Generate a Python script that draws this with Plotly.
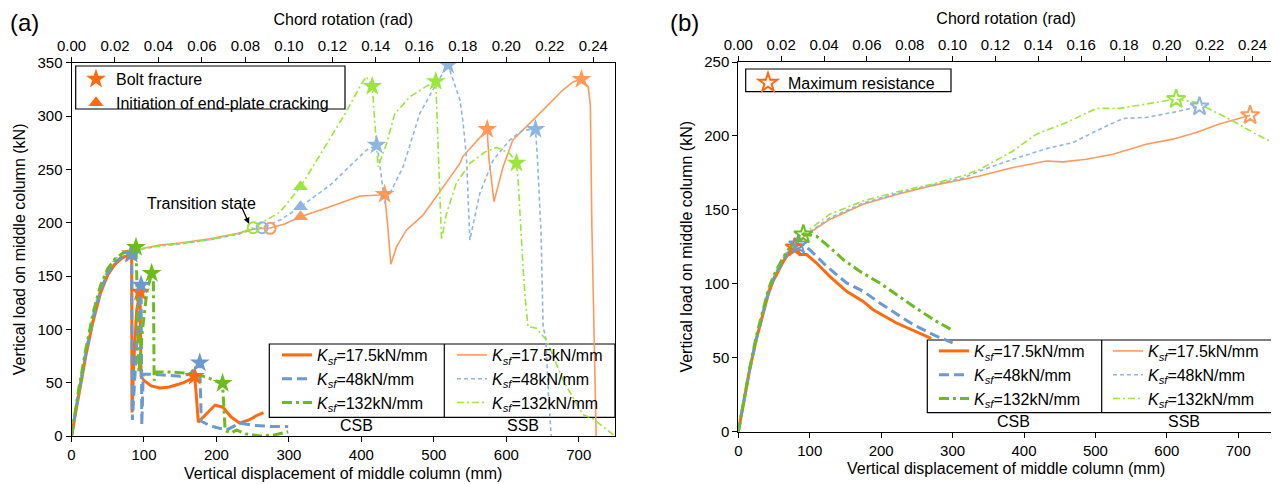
import plotly.graph_objects as go

# the page body has an 8px margin, so the figure is drawn 8px in from the corner
OFF = 8
W, H = 1279 - OFF, 484 - OFF

# ---------------- panel (a) data ----------------
# CSB (thick) curves
a_csb_or_x = [0, 5, 10, 20, 30, 40, 50, 60, 70, 80, 83, 83.5, 86, 90, 94.5, 96, 100, 110, 122, 135, 145, 155, 163, 170, 172, 175, 185, 198, 209, 220, 232, 245, 255, 265]
a_csb_or_y = [0, 20, 40, 76, 108, 134, 151, 161, 167, 170, 171, 22, 70, 118, 135, 56, 52, 47, 45, 46, 48, 50, 53, 56, 40, 13, 20, 29, 27, 18, 12, 15, 19, 22]

a_csb_bl_x = [0, 5, 10, 20, 30, 40, 50, 60, 70, 80, 83, 84, 88, 93, 96, 97, 99, 110, 130, 150, 163, 172, 177, 179, 190, 200, 214, 232, 251, 275, 299]
a_csb_bl_y = [0, 21, 41, 78, 111, 136, 153, 163, 168, 171, 170.6, 15, 60, 120, 141.6, 10, 58, 58, 57, 56, 58, 65, 68.7, 14, 10, 8, 5.6, 12, 10, 9, 9]

a_csb_gr_x = [0, 5, 10, 20, 30, 40, 50, 60, 70, 80, 89, 90, 93, 98, 104, 110.6, 113, 114, 117.5, 140, 160, 173, 190, 208.5, 212, 220, 228, 240, 260, 280, 299]
a_csb_gr_y = [0, 23, 44, 82, 116, 141, 157, 166, 171, 174, 177, 150, 60, 100, 135, 152.5, 150, 52, 60, 60, 59, 58, 54, 49.4, 5, 3, 5.6, 2, 0, 1, 4]

# SSB (thin) curves
a_ssb_or_x = [0, 5, 10, 20, 30, 40, 50, 60, 70, 80, 85, 100, 122, 150, 191, 230, 251, 274, 295, 316, 356.6, 398, 425, 432, 436, 440.7, 448.6, 462, 485, 508, 536, 540, 573.6, 576, 583, 595.6, 609, 641.6, 678, 692, 703.7, 713, 716, 718, 720, 722, 724]
a_ssb_or_y = [0, 20, 40, 76, 108, 134, 151, 161, 167, 170, 173, 176, 179, 181, 185, 190, 194, 195, 199, 205.6, 215, 225, 226, 226.6, 200, 161, 177.5, 193, 207, 229, 255.6, 262, 287.5, 260, 219.7, 252.5, 277.5, 299.4, 324.4, 332, 334.4, 327.5, 310, 200, 120, 40, 0]

a_ssb_bl_x = [0, 5, 10, 20, 30, 40, 50, 60, 70, 80, 85, 100, 122, 150, 191, 230, 251, 263, 288, 316, 356.6, 407, 421, 424, 432.4, 457.7, 480.7, 503.7, 519.7, 536, 540, 545, 549.7, 563.4, 581.8, 604.8, 623, 640.3, 643, 648, 650.8, 654.5, 658, 662]
a_ssb_bl_y = [0, 21, 41, 78, 111, 136, 153, 163, 168, 171, 172, 175.5, 178.5, 180, 184, 189, 194, 195.3, 202.5, 215, 235, 268, 272.8, 262, 218, 252.5, 302.5, 330.6, 347.8, 315, 296, 262, 183.7, 227.5, 258.7, 277.5, 286.9, 287.5, 260, 190, 102.5, 91.6, 40, 0]

a_ssb_gr_x = [0, 5, 10, 20, 30, 40, 50, 60, 70, 80, 85, 100, 122, 150, 191, 230, 250.8, 288, 316, 347, 380, 400, 407, 415, 418.6, 423, 434.7, 446, 467, 490, 502.7, 506, 510.6, 517.5, 531, 549.7, 570, 586.5, 604.8, 614, 616.3, 623, 626, 630, 641.6, 655.4, 680, 706, 720, 750]
a_ssb_gr_y = [0, 23, 44, 82, 116, 141, 157, 166, 171, 174, 174, 176, 178, 180, 184, 190, 195.3, 210, 233.7, 268, 305, 330, 337, 328, 290, 252.5, 274, 302, 318, 328, 332.5, 277.5, 183.7, 208.7, 237, 255.6, 266, 270.6, 265, 256, 240, 158.7, 130, 102.5, 101, 90, 50, 20, 16, 0]

# bolt fracture (stars), end-plate cracking (triangles), transition state (circles)
a_star_csb_or = ([82, 94.5, 170], [171, 135, 56])
a_star_csb_bl = ([83, 96, 177], [170.6, 141.6, 68.7])
a_star_csb_gr = ([89, 110.6, 208.5], [177, 152.5, 49.4])
a_star_ssb_or = ([432, 573.6, 703.7], [226.6, 287.5, 334.4])
a_star_ssb_bl = ([421, 519.7, 640.3], [272.8, 347.8, 287.5])
a_star_ssb_gr = ([415, 502.7, 614], [328, 332.5, 256])
a_tri_x = [316, 316, 316]
a_tri_y = [205.6, 215, 233.7]
a_circ_x = [274, 263, 250.8]
a_circ_y = [194.7, 195.3, 195.3]

# ---------------- panel (b) data ----------------
b_csb_or_x = [0, 8, 16, 25, 35, 42, 49, 56, 63, 70, 76, 79, 82, 86, 95.7, 109.6, 128, 151.6, 174.8, 188.8, 221.5, 263.5, 270]
b_csb_or_y = [0, 21, 42, 62, 81, 93, 102, 109, 115, 120, 123, 124.5, 123, 119.7, 119.7, 114, 105, 94.8, 88, 82.4, 73.4, 64.3, 63]

b_csb_bl_x = [0, 8, 16, 25, 35, 42, 49, 56, 63, 70, 77, 84, 90, 100, 123.6, 151.6, 174.8, 198, 244.8, 275, 300]
b_csb_bl_y = [0, 21, 42, 62, 82, 94, 103, 110, 116, 121, 124, 126.5, 126, 123, 111.8, 100.5, 94.9, 87, 72.3, 65, 60]

b_csb_gr_x = [0, 8, 16, 25, 35, 42, 49, 56, 63, 70, 77, 84, 91, 100, 109.6, 123.6, 147, 170, 198, 245, 277.5, 298.5]
b_csb_gr_y = [0, 22, 43, 64, 84, 96, 105, 112, 118, 123, 127, 130, 133.3, 133, 132, 126.5, 116.3, 108.4, 100.5, 84.7, 74.5, 68.9]

b_ssb_or_x = [0, 8, 16, 25, 35, 42, 49, 56, 63, 70, 80, 90, 100, 128, 174.8, 221.5, 268, 314.7, 338, 384.6, 431.3, 454.5, 487, 524.5, 571, 608.4, 641, 673.7, 716.6]
b_ssb_or_y = [0, 21, 42, 62, 82, 94, 103, 110, 116, 121, 126, 131, 134.5, 143.5, 153.7, 160.4, 166, 170.6, 172.9, 178.6, 183, 182.4, 184.2, 187.6, 194.4, 197.8, 202.3, 208, 214]

b_ssb_bl_x = [0, 8, 16, 25, 35, 42, 49, 56, 63, 70, 80, 90, 100, 128, 174.8, 221.5, 268, 314.7, 338, 384.6, 431.3, 468.5, 501.2, 538.5, 571, 608.4, 645.7]
b_ssb_bl_y = [0, 21, 42, 62, 82, 94, 103, 110, 116, 121, 127, 132, 135, 144.5, 154.5, 161, 166.5, 171.5, 176.3, 184.2, 191.4, 195.5, 203.4, 211.8, 212.5, 215.9, 219.9]

b_ssb_gr_x = [0, 8, 16, 25, 35, 42, 49, 56, 63, 70, 80, 90, 100, 128, 174.8, 221.5, 268, 314.7, 338, 384.6, 417.3, 459.3, 501.2, 533.8, 571, 613, 641, 687.7, 725, 750]
b_ssb_gr_y = [0, 22, 43, 64, 84, 96, 105, 112, 118, 123, 129, 134, 137, 147, 156, 162, 167, 173, 177.4, 189.8, 201.2, 209, 218.6, 218.6, 221.5, 224.9, 222.7, 211.3, 201.2, 195]

b_max_csb = ([79, 84, 91], [124.5, 126.5, 133.3])
b_max_ssb = ([716.6, 645.7, 613], [214, 219.9, 224.9])

legend_labels = ["<i>K</i><sub><i>sf</i></sub>=17.5kN/mm",
                 "<i>K</i><sub><i>sf</i></sub>=48kN/mm",
                 "<i>K</i><sub><i>sf</i></sub>=132kN/mm"]

# colours: CSB darker, SSB lighter
C_OR, C_BL, C_GR = "#FF6A0D", "#6A9AD0", "#6CBC1E"
S_OR, S_BL, S_GR = "#FF9A5A", "#8EB6E3", "#9BE63A"

FONT = "Liberation Sans, Arial, sans-serif"

fig = go.Figure()


def line(x, y, color, width, dash, name, xa, ya, leg, grp):
    fig.add_trace(go.Scatter(x=x, y=y, mode="lines", name=name,
                             line=dict(color=color, width=width, dash=dash),
                             xaxis=xa, yaxis=ya, legend=leg, legendgroup=grp,
                             hoverinfo="skip"))


def marks(xy, color, symbol, size, xa, ya, lw=0):
    fig.add_trace(go.Scatter(x=xy[0], y=xy[1], mode="markers", showlegend=False,
                             marker=dict(symbol=symbol, size=size, color=color,
                                         line=dict(width=lw, color=color)),
                             xaxis=xa, yaxis=ya, hoverinfo="skip"))


DASH_T = "10px,5px"
DASHDOT_T = "10px,4px,3px,4px"
DASH_S = "4px,3px"
DASHDOT_S = "7px,3px,2px,3px"

# ---- panel (a) curves: SSB first, CSB on top
line(a_ssb_or_x, a_ssb_or_y, S_OR, 1.6, "solid", legend_labels[0], "x", "y", "legend3", "s1")
line(a_ssb_bl_x, a_ssb_bl_y, S_BL, 1.6, DASH_S, legend_labels[1], "x", "y", "legend3", "s2")
line(a_ssb_gr_x, a_ssb_gr_y, S_GR, 1.6, DASHDOT_S, legend_labels[2], "x", "y", "legend3", "s3")
line(a_csb_or_x, a_csb_or_y, C_OR, 3, "solid", legend_labels[0], "x", "y", "legend2", "c1")
line(a_csb_bl_x, a_csb_bl_y, C_BL, 3, DASH_T, legend_labels[1], "x", "y", "legend2", "c2")
line(a_csb_gr_x, a_csb_gr_y, C_GR, 3, DASHDOT_T, legend_labels[2], "x", "y", "legend2", "c3")

marks(a_star_ssb_or, S_OR, "star", 15, "x", "y")
marks(a_star_ssb_bl, S_BL, "star", 15, "x", "y")
marks(a_star_ssb_gr, S_GR, "star", 15, "x", "y")
marks(a_star_csb_or, C_OR, "star", 15, "x", "y")
marks(a_star_csb_bl, C_BL, "star", 15, "x", "y")
marks(a_star_csb_gr, C_GR, "star", 15, "x", "y")
fig.add_trace(go.Scatter(x=a_tri_x, y=a_tri_y, mode="markers", showlegend=False,
                         marker=dict(symbol="triangle-up", size=13, color=[S_OR, S_BL, S_GR]),
                         xaxis="x", yaxis="y", hoverinfo="skip"))
fig.add_trace(go.Scatter(x=a_circ_x, y=a_circ_y, mode="markers", showlegend=False,
                         marker=dict(symbol="circle-open", size=11, color=[S_OR, S_BL, S_GR],
                                     line=dict(width=2)),
                         xaxis="x", yaxis="y", hoverinfo="skip"))

# legend entries for markers in (a)
fig.add_trace(go.Scatter(x=[None], y=[None], mode="markers", name="Bolt fracture",
                         marker=dict(symbol="star", size=15, color=C_OR),
                         xaxis="x", yaxis="y", legend="legend", legendgroup="m1"))
fig.add_trace(go.Scatter(x=[None], y=[None], mode="markers", name="Initiation of end-plate cracking",
                         marker=dict(symbol="triangle-up", size=13, color=C_OR),
                         xaxis="x", yaxis="y", legend="legend", legendgroup="m2"))

# ---- panel (b) curves
line(b_ssb_or_x, b_ssb_or_y, S_OR, 1.6, "solid", legend_labels[0], "x2", "y2", "legend6", "s1")
line(b_ssb_bl_x, b_ssb_bl_y, S_BL, 1.6, DASH_S, legend_labels[1], "x2", "y2", "legend6", "s2")
line(b_ssb_gr_x, b_ssb_gr_y, S_GR, 1.6, DASHDOT_S, legend_labels[2], "x2", "y2", "legend6", "s3")
line(b_csb_or_x, b_csb_or_y, C_OR, 3, "solid", legend_labels[0], "x2", "y2", "legend5", "c1")
line(b_csb_bl_x, b_csb_bl_y, C_BL, 3, DASH_T, legend_labels[1], "x2", "y2", "legend5", "c2")
line(b_csb_gr_x, b_csb_gr_y, C_GR, 3, DASHDOT_T, legend_labels[2], "x2", "y2", "legend5", "c3")

fig.add_trace(go.Scatter(x=b_max_csb[0], y=b_max_csb[1], mode="markers", showlegend=False,
                         marker=dict(symbol="star-open", size=14, color=[C_OR, C_BL, C_GR], line=dict(width=2)),
                         xaxis="x2", yaxis="y2", hoverinfo="skip"))
fig.add_trace(go.Scatter(x=b_max_ssb[0], y=b_max_ssb[1], mode="markers", showlegend=False,
                         marker=dict(symbol="star-open", size=14, color=[S_OR, S_BL, S_GR], line=dict(width=2)),
                         xaxis="x2", yaxis="y2", hoverinfo="skip"))
fig.add_trace(go.Scatter(x=[None], y=[None], mode="markers", name="Maximum resistance",
                         marker=dict(symbol="star-open", size=14, color=C_OR, line=dict(width=2)),
                         xaxis="x2", yaxis="y2", legend="legend4"))

# dummy traces so that the top rotation axes are drawn
fig.add_trace(go.Scatter(x=[0, 0.25], y=[None, None], mode="markers", showlegend=False,
                         xaxis="x3", yaxis="y", hoverinfo="skip"))
fig.add_trace(go.Scatter(x=[0, 0.25], y=[None, None], mode="markers", showlegend=False,
                         xaxis="x4", yaxis="y2", hoverinfo="skip"))


def px_x(p):
    # screen pixel -> paper fraction
    return (p - OFF) / W


def px_y(p):
    return (H - (p - OFF)) / H


TITLE_SIZE = 16

ax_common = dict(showline=True, linecolor="black", linewidth=1, mirror=True, ticks="outside",
                 ticklen=5, tickcolor="black", showgrid=False, zeroline=False,
                 tickfont=dict(size=15, color="black"))
top_common = dict(showline=False, ticks="outside", ticklen=5, tickcolor="black", showgrid=False,
                  zeroline=False, side="top", range=[0, 0.25], tick0=0, dtick=0.02,
                  tickformat=".2f", tickfont=dict(size=15, color="black"),
                  title=dict(text="Chord rotation (rad)", font=dict(size=TITLE_SIZE), standoff=7))

xa_dom = [px_x(71.5), px_x(615)]
ya_dom = [px_y(436), px_y(62.7)]
xb_dom = [px_x(738.3), px_x(1274)]
yb_dom = [px_y(431.5), px_y(62)]

leg_font = dict(family=FONT, size=16, color="black")
leg_common = dict(bgcolor="rgba(255,255,255,0)", borderwidth=0, font=leg_font,
                  xanchor="left", yanchor="top", tracegroupgap=0, traceorder="grouped")

fig.update_layout(
    width=W, height=H, margin=dict(l=0, r=0, t=0, b=0, autoexpand=False),
    paper_bgcolor="white", plot_bgcolor="white",
    font=dict(family=FONT, color="black", size=15),
    xaxis=dict(domain=xa_dom, anchor="y", range=[0, 750], dtick=100,
               title=dict(text="Vertical displacement of middle column (mm)", font=dict(size=TITLE_SIZE), standoff=5),
               **ax_common),
    yaxis=dict(domain=ya_dom, anchor="x", range=[0, 350], dtick=50,
               title=dict(text="Vertical load on middle column (kN)", font=dict(size=TITLE_SIZE), standoff=7),
               **ax_common),
    xaxis3=dict(overlaying="x", anchor="y", **top_common),
    xaxis2=dict(domain=xb_dom, anchor="y2", range=[0, 750], dtick=100,
                title=dict(text="Vertical displacement of middle column (mm)", font=dict(size=TITLE_SIZE), standoff=5),
                **ax_common),
    yaxis2=dict(domain=yb_dom, anchor="x2", range=[0, 250], dtick=50,
                title=dict(text="Vertical load on middle column (kN)", font=dict(size=TITLE_SIZE), standoff=7),
                **ax_common),
    xaxis4=dict(overlaying="x2", anchor="y2", **top_common),
    legend=dict(x=px_x(76), y=px_y(62), **leg_common),
    legend2=dict(x=px_x(277), y=px_y(338), **leg_common),
    legend3=dict(x=px_x(452), y=px_y(338), **leg_common),
    legend4=dict(x=px_x(748), y=px_y(66), **leg_common),
    legend5=dict(x=px_x(934), y=px_y(334), **leg_common),
    legend6=dict(x=px_x(1108), y=px_y(334), **leg_common),
    showlegend=True,
)

# legend frames
frames = [
    (75.7, 66, 345, 109),
    (269.3, 344, 615, 417.3),
    (745.7, 69, 951, 91.7),
    (927.3, 340, 1274, 412.7),
]
for x0, y0, x1, y1 in frames:
    fig.add_shape(type="rect", xref="paper", yref="paper", x0=px_x(x0), x1=px_x(x1),
                  y0=px_y(y1), y1=px_y(y0), line=dict(color="black", width=1.2),
                  fillcolor="white", layer="below")
for xd, y0, y1 in [(444.3, 344, 417.3), (1101.7, 340, 412.7)]:
    fig.add_shape(type="line", xref="paper", yref="paper", x0=px_x(xd), x1=px_x(xd),
                  y0=px_y(y1), y1=px_y(y0), line=dict(color="black", width=1.2))

# text annotations
for txt, xp, yp in [("CSB", 356.7, 425), ("SSB", 523.3, 425), ("CSB", 1013, 421), ("SSB", 1184, 421)]:
    fig.add_annotation(text=txt, xref="paper", yref="paper", x=px_x(xp), y=px_y(yp),
                       xanchor="center", yanchor="middle", showarrow=False, font=dict(size=16))
fig.add_annotation(text="(a)", xref="paper", yref="paper", x=px_x(24), y=px_y(22),
                   xanchor="center", yanchor="middle", showarrow=False, font=dict(size=24))
fig.add_annotation(text="(b)", xref="paper", yref="paper", x=px_x(684), y=px_y(22),
                   xanchor="center", yanchor="middle", showarrow=False, font=dict(size=24))
fig.add_annotation(text="Transition state", xref="x", yref="y", x=180, y=218,
                   showarrow=False, font=dict(size=16))
fig.add_annotation(text="", xref="x", yref="y", x=245, y=199, ax=-8, ay=-18,
                   showarrow=True, arrowhead=2, arrowsize=1, arrowwidth=1.2, arrowcolor="black")

fig.write_html("out.html")
